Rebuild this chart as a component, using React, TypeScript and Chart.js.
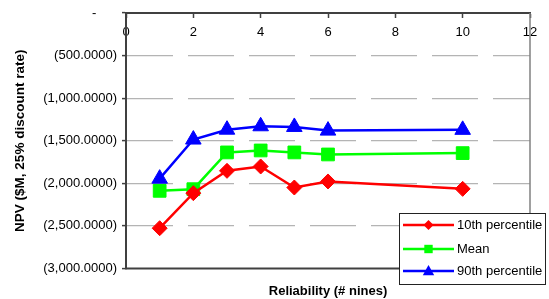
import React, { useEffect, useRef } from 'react';
import { Chart, registerables } from 'chart.js';

Chart.register(...registerables);

const reliability = [1, 2, 3, 4, 5, 6, 10];
const p10Values = [-2527, -2115, -1853, -1802, -2049, -1978, -2065];
const meanValues = [-2088, -2069, -1637, -1614, -1637, -1661, -1645];
const p90Values = [-1945, -1486, -1370, -1330, -1338, -1381, -1372];
const seriesNames = ['10th percentile', 'Mean', '90th percentile'];
const seriesColors = ['#ff0000', '#00ff00', '#0000ff'];
const seriesMarkers = ['rectRot', 'rect', 'triangle'];
const xTitle = 'Reliability (# nines)';
const yTitle = 'NPV ($M, 25% discount rate)';

const FONT = '"Liberation Sans", Arial, sans-serif';

function fmtY(v: number): string {
  if (v === 0) return '-' + '     ' + '\u2009';
  const s = Math.abs(v).toLocaleString('en-US', { minimumFractionDigits: 4, maximumFractionDigits: 4 });
  return v < 0 ? `(${s})` : s;
}

function drawMarker(ctx: CanvasRenderingContext2D, style: string, x: number, y: number, r: number) {
  ctx.beginPath();
  if (style === 'rectRot') {
    ctx.moveTo(x - r, y);
    ctx.lineTo(x, y - r);
    ctx.lineTo(x + r, y);
    ctx.lineTo(x, y + r);
  } else if (style === 'rect') {
    ctx.rect(x - r, y - r, 2 * r, 2 * r);
  } else {
    ctx.moveTo(x, y - r);
    ctx.lineTo(x + r * 0.95, y + r * 0.7);
    ctx.lineTo(x - r * 0.95, y + r * 0.7);
  }
  ctx.closePath();
  ctx.fill();
}

const framePlugin = {
  id: 'frame',
  beforeDatasetsDraw(chart: any) {
    const { ctx, chartArea } = chart;
    const yb = chart.scales.y.getPixelForValue(-3000);
    ctx.save();
    ctx.strokeStyle = '#808080';
    ctx.lineWidth = 1.5;
    ctx.beginPath();
    ctx.moveTo(chartArea.right, chartArea.top);
    ctx.lineTo(chartArea.right, yb);
    ctx.stroke();
    ctx.strokeStyle = '#404040';
    ctx.lineWidth = 2;
    ctx.beginPath();
    ctx.moveTo(chartArea.left - 1, yb);
    ctx.lineTo(chartArea.right, yb);
    ctx.stroke();
    ctx.restore();
  },
};

const legendPlugin = {
  id: 'boxLegend',
  afterDraw(chart: any) {
    const { ctx } = chart;
    const bx = 399.5, by = 213.5, bw = 146, bh = 71;
    ctx.save();
    ctx.fillStyle = '#ffffff';
    ctx.fillRect(bx, by, bw, bh);
    ctx.strokeStyle = '#222222';
    ctx.lineWidth = 1;
    ctx.strokeRect(bx, by, bw, bh);
    const rows = [225, 249, 271];
    chart.data.datasets.forEach((ds: any, i: number) => {
      const y = rows[i];
      ctx.strokeStyle = ds.borderColor;
      ctx.lineWidth = 2.5;
      ctx.beginPath();
      ctx.moveTo(403, y);
      ctx.lineTo(454, y);
      ctx.stroke();
      ctx.fillStyle = ds.borderColor;
      const r = ds.pointStyle === 'rect' ? 4.2 : ds.pointStyle === 'rectRot' ? 5 : 6;
      drawMarker(ctx, ds.pointStyle, 428.5, y, r);
      ctx.fillStyle = '#000000';
      ctx.font = `13px ${FONT}`;
      ctx.textAlign = 'left';
      ctx.textBaseline = 'middle';
      ctx.fillText(ds.label, 457, y + 0.5);
    });
    ctx.restore();
  },
};

export default function App() {
  const canvasRef = useRef<HTMLCanvasElement | null>(null);

  useEffect(() => {
    if (!canvasRef.current) return;
    const seriesValues = [p10Values, meanValues, p90Values];
    const radii = [7.5, 9, 9];
    const chart = new Chart(canvasRef.current, {
      type: 'line',
      data: {
        datasets: seriesValues.map((vals, i) => ({
          label: seriesNames[i],
          data: reliability.map((x, j) => ({ x, y: vals[j] })),
          borderColor: seriesColors[i],
          backgroundColor: seriesColors[i],
          pointBackgroundColor: seriesColors[i],
          pointBorderColor: seriesColors[i],
          pointStyle: seriesMarkers[i] as any,
          pointRadius: radii[i],
          pointBorderWidth: 1,
          borderWidth: 2.5,
          tension: 0,
          fill: false,
        })),
      },
      options: {
        animation: false,
        responsive: true,
        maintainAspectRatio: false,
        layout: { padding: { top: 13, right: 19, left: 0, bottom: 0 } },
        plugins: {
          legend: { display: false },
          tooltip: { enabled: false },
          title: {
            display: true,
            text: xTitle,
            position: 'bottom',
            fullSize: false,
            color: '#000',
            font: { family: FONT, size: 13, weight: 'bold' },
            padding: { top: 14.7, bottom: 0.2 },
          },
        },
        scales: {
          x: {
            type: 'linear',
            position: { y: 0 } as any,
            min: 0,
            max: 12,
            ticks: {
              stepSize: 2,
              color: '#000',
              padding: 7.7,
              font: { family: FONT, size: 13 },
            },
            grid: {
              display: true,
              drawOnChartArea: false,
              drawTicks: true,
              tickLength: 4,
              tickColor: '#404040',
              tickWidth: 1.5,
            },
            border: { display: true, color: '#404040', width: 2 },
          },
          y: {
            type: 'linear',
            position: 'left',
            min: -3000,
            max: 0,
            afterFit: (scale: any) => {
              scale.width = 126;
            },
            ticks: {
              stepSize: 500,
              color: '#000',
              padding: 5,
              font: { family: FONT, size: 13 },
              callback: (v: any) => fmtY(Number(v)),
            },
            grid: {
              display: true,
              drawTicks: true,
              tickLength: 4,
              tickColor: '#404040',
              tickWidth: 1.5,
              lineWidth: 1.2,
              color: (ctx: any) =>
                ctx.tick && (ctx.tick.value === 0 || ctx.tick.value === -3000) ? 'rgba(0,0,0,0)' : '#b4b4b4',
            },
            border: { display: true, color: '#404040', width: 2, dash: [46, 15] },
            title: {
              display: true,
              text: yTitle,
              color: '#000',
              font: { family: FONT, size: 13.5, weight: 'bold' },
              padding: { top: 11.9, bottom: 0 },
            },
          },
        },
      },
      plugins: [framePlugin, legendPlugin],
    });
    return () => chart.destroy();
  }, []);

  return (
    <div style={{ position: 'absolute', left: 0, top: 0, width: 549, height: 299, background: '#fff' }}>
      <canvas ref={canvasRef} />
    </div>
  );
}
